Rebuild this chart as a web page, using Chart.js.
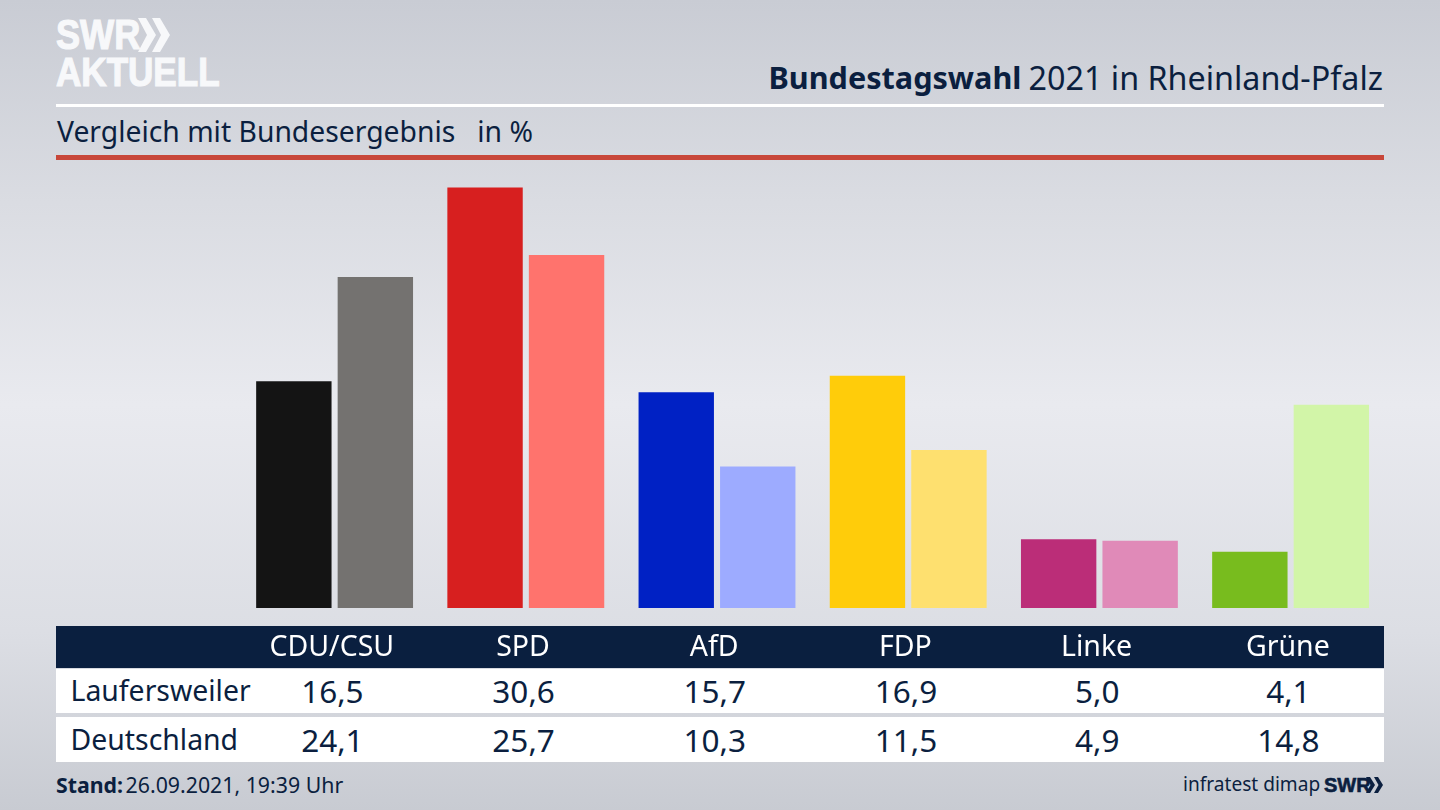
<!DOCTYPE html>
<html lang="de">
<head>
<meta charset="utf-8">
<title>Bundestagswahl 2021 in Rheinland-Pfalz</title>
<script src="https://cdn.jsdelivr.net/npm/chart.js@4"></script>
<style>
  html, body { margin: 0; padding: 0; }
  body {
    position: relative; width: 1440px; height: 810px; overflow: hidden;
    font-family: "Noto Sans", sans-serif; color: #0b1f3f;
    background: linear-gradient(180deg, #c9ccd4 0%, #dadce2 25%, #e9eaef 50%, #dcdee4 78%, #c8cbd2 100%);
  }
  .abs { position: absolute; white-space: nowrap; }
  .rule { position: absolute; left: 56px; width: 1328px; }
  .logo { font-family: "Liberation Sans", sans-serif; font-weight: 700; color: #f7f8fa; transform-origin: 0 0; -webkit-text-stroke: 1.2px #f7f8fa; }
  #chartBox { position: absolute; left: 239.3px; top: 170px; width: 1147.2px; height: 498px; z-index: 2; }
  .row { position: absolute; left: 56px; width: 1328px; background: #fff; }
  .cell { position: absolute; top: 50%; transform: translate(-50%, -52%); font-size: 31.5px; white-space: nowrap; }
  .rowLabel { position: absolute; left: 14.5px; top: 50%; transform: translateY(-52%); font-size: 28.4px; white-space: nowrap; }
</style>
</head>
<body>
  <div class="abs logo" style="left:56px;top:9px;font-size:42px;line-height:52px;transform:scaleX(0.86)">SWR</div>
  <svg class="abs" style="left:138px;top:18px" width="33" height="34">
    <path d="M0 0 L8 0 L18 17 L8 34 L0 34 L9 17 Z M14 0 L22 0 L32 17 L22 34 L14 34 L23 17 Z" fill="#f7f8fa"/>
  </svg>
  <div class="abs logo" style="left:56px;top:46px;font-size:41px;line-height:52px;transform:scaleX(0.855)">AKTUELL</div>

  <div class="abs" style="left:768.5px;top:54px;font-size:30.6px;line-height:46px;font-weight:700">Bundestagswahl</div>
  <div class="abs" style="right:57px;top:54px;font-size:32.3px;line-height:46px">2021 in Rheinland-Pfalz</div>
  <div class="rule" style="top:104px;height:3px;background:#fff"></div>
  <div class="abs" style="left:57px;top:110px;font-size:28.3px;line-height:42px">Vergleich mit Bundesergebnis&nbsp;&nbsp; in %</div>
  <div class="rule" style="top:155px;height:5px;background:#c8473a"></div>

  <div class="rule" style="top:626px;height:42px;background:#0a1f3f"></div>
  <div class="row" id="row0" style="top:669px;height:44px"></div>
  <div class="row" id="row1" style="top:717px;height:45px"></div>

  <div class="abs" style="left:56px;top:770px;font-size:21.3px;line-height:30px"><b style="margin-right:-3px">Stand:</b> 26.09.2021, 19:39 Uhr</div>
  <div class="abs" style="left:1183px;top:769px;font-size:19.1px;line-height:30px">infratest dimap</div>
  <div class="abs" style="left:1324px;top:770px;font:700 20px/30px 'Liberation Sans',sans-serif;-webkit-text-stroke:0.6px #0b1f3f">SWR</div>
  <svg class="abs" style="left:1366px;top:777px" width="18" height="16">
    <path d="M0 0 L4 0 L9 8 L4 16 L0 16 L4.5 8 Z M8 0 L12 0 L17 8 L12 16 L8 16 L12.5 8 Z" fill="#0b1f3f"/>
  </svg>

  <div id="chartBox"><canvas id="electionChart"></canvas></div>

<script>
// --- Data ---
const categories = ['CDU/CSU', 'SPD', 'AfD', 'FDP', 'Linke', 'Grüne'];
const rowNames = ['Laufersweiler', 'Deutschland'];
const laufersweiler = [16.5, 30.6, 15.7, 16.9, 5.0, 4.1];
const deutschland = [24.1, 25.7, 10.3, 11.5, 4.9, 14.8];
const darkColors = ['#141414', '#d71f1f', '#0021c4', '#ffcc0a', '#bb2d78', '#78bc1e'];
const lightColors = ['#747270', '#ff736d', '#9dabff', '#fee06f', '#e08ab8', '#d2f5a8'];

const formatValue = v => v.toFixed(1).replace('.', ',');

// --- Chart ---
const chart = new Chart(document.getElementById('electionChart'), {
    type: 'bar',
    data: {
        labels: categories,
        datasets: [
            { label: rowNames[0], data: laufersweiler, backgroundColor: darkColors },
            { label: rowNames[1], data: deutschland, backgroundColor: lightColors }
        ]
    },
    options: {
        responsive: true,
        maintainAspectRatio: false,
        animation: false,
        layout: { padding: 0 },
        datasets: { bar: { categoryPercentage: 0.8525, barPercentage: 0.925 } },
        scales: {
            x: {
                border: { display: false },
                grid: { display: false, drawTicks: false },
                ticks: { color: '#ffffff', font: { family: 'Noto Sans', size: 28.5 }, padding: 23, labelOffset: -2.8, maxRotation: 0 },
                afterFit: scale => { scale.height = 60; }
            },
            y: { display: false, min: 0, max: 31.88 }
        },
        plugins: { legend: { display: false }, tooltip: { enabled: false } }
    }
});

// --- Table rows, lined up with the chart's own x scale ---
[laufersweiler, deutschland].forEach((values, r) => {
    const row = document.getElementById('row' + r);
    const name = document.createElement('div');
    name.className = 'rowLabel';
    name.textContent = rowNames[r];
    row.appendChild(name);
    values.forEach((v, i) => {
        const cell = document.createElement('div');
        cell.className = 'cell';
        cell.textContent = formatValue(v);
        cell.style.left = (239.3 + chart.scales.x.getPixelForValue(i) - 56 - 2.5) + 'px';
        row.appendChild(cell);
    });
});
</script>
</body>
</html>
